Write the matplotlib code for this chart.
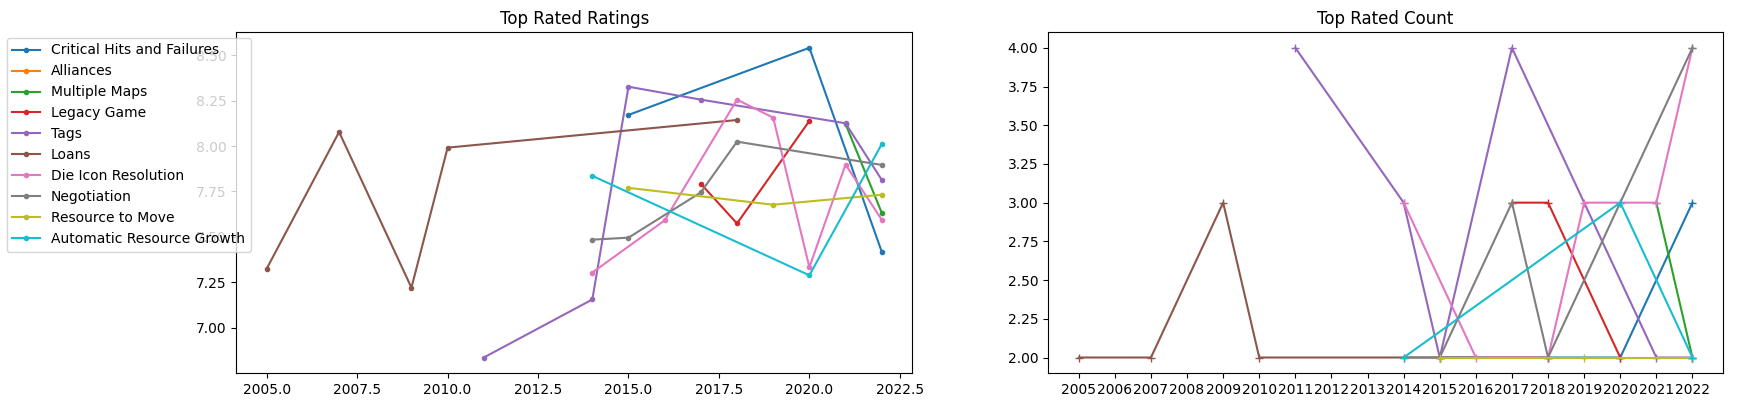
import matplotlib
matplotlib.use("Agg")
import matplotlib.pyplot as plt

mechanics = ["Critical Hits and Failures", "Alliances", "Multiple Maps", "Legacy Game",
             "Tags", "Loans", "Die Icon Resolution", "Negotiation",
             "Resource to Move", "Automatic Resource Growth"]

# Top rated ratings / counts per year, per mechanic
crit_years = [2015, 2020, 2022]
crit_rating = [8.171, 8.54, 7.419]
crit_count = [2, 2, 3]

alli_years = []
alli_rating = []
alli_count = []

maps_years = [2021, 2022]
maps_rating = [8.121, 7.633]
maps_count = [3, 2]

legacy_years = [2017, 2018, 2020]
legacy_rating = [7.792, 7.574, 8.138]
legacy_count = [3, 3, 2]

tags_years = [2011, 2014, 2015, 2017, 2021, 2022]
tags_rating = [6.837, 7.156, 8.326, 8.255, 8.125, 7.814]
tags_count = [4, 3, 2, 4, 2, 2]

loans_years = [2005, 2007, 2009, 2010, 2018]
loans_rating = [7.326, 8.077, 7.221, 7.991, 8.143]
loans_count = [2, 2, 3, 2, 2]

die_years = [2014, 2016, 2018, 2019, 2020, 2021, 2022]
die_rating = [7.304, 7.591, 8.255, 8.156, 7.333, 7.898, 7.595]
die_count = [3, 2, 2, 3, 3, 3, 4]

nego_years = [2014, 2015, 2017, 2018, 2022]
nego_rating = [7.485, 7.496, 7.745, 8.024, 7.896]
nego_count = [2, 2, 3, 2, 4]

move_years = [2015, 2019, 2022]
move_rating = [7.770, 7.677, 7.732]
move_count = [2, 2, 2]

auto_years = [2014, 2020, 2022]
auto_rating = [7.836, 7.289, 8.010]
auto_count = [2, 3, 2]

all_years = [crit_years, alli_years, maps_years, legacy_years, tags_years,
             loans_years, die_years, nego_years, move_years, auto_years]
all_ratings = [crit_rating, alli_rating, maps_rating, legacy_rating, tags_rating,
               loans_rating, die_rating, nego_rating, move_rating, auto_rating]
all_counts = [crit_count, alli_count, maps_count, legacy_count, tags_count,
              loans_count, die_count, nego_count, move_count, auto_count]

count_ticks = list(range(2005, 2023))

fig = plt.figure(figsize=(17.43, 4.08), dpi=100)
ax1 = fig.add_axes([0.1354, 0.0858, 0.3881, 0.8350])
ax2 = fig.add_axes([0.6013, 0.0858, 0.3873, 0.8350])

for name, yrs, vals in zip(mechanics, all_years, all_ratings):
    ax1.plot(yrs, vals, marker='.', label=name)
for name, yrs, vals in zip(mechanics, all_years, all_counts):
    ax2.plot(yrs, vals, marker='+', label=name)

ax1.set_title("Top Rated Ratings")
ax2.set_title("Top Rated Count")
ax2.set_xticks(count_ticks)

ax1.legend(loc='upper left', bbox_to_anchor=(0.0038, 0.907),
           bbox_transform=fig.transFigure, borderaxespad=0)

fig.savefig("out.png", dpi=100)
